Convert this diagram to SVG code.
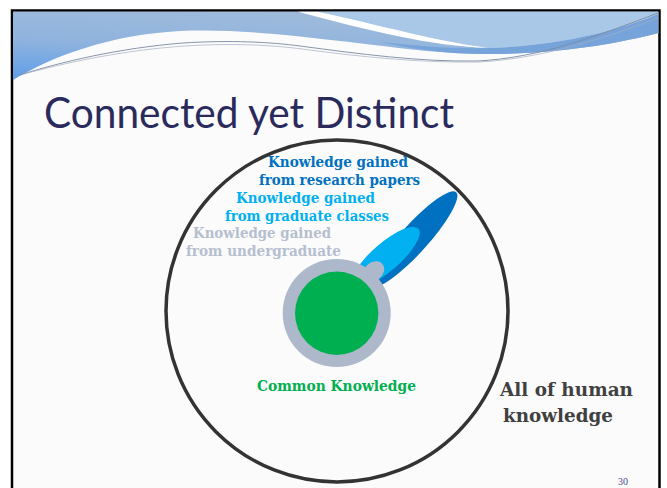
<svg xmlns="http://www.w3.org/2000/svg" width="667" height="488" viewBox="0 0 667 488">
  <defs>
    <linearGradient id="gMain" x1="0" y1="1" x2="0.45" y2="0">
      <stop offset="0" stop-color="#5f9ee8"/>
      <stop offset="0.5" stop-color="#8fb3de"/>
      <stop offset="1" stop-color="#9fbbdb"/>
    </linearGradient>
    <style>
      .lbl { font-family: "DejaVu Serif", "Liberation Serif", serif; font-weight: bold; }
      .k1 { fill: #0070c0; font-size: 14.5px; }
      .k2 { fill: #00b0f0; font-size: 14.5px; }
      .k3 { fill: #b6bfcf; font-size: 14.5px; }
      .thin { fill: none; stroke-linecap: round; }
    </style>
  </defs>
  <rect x="0" y="0" width="667" height="488" fill="#ffffff"/>
  <g id="slide">
    <rect x="12" y="10.5" width="647.5" height="500" fill="#fbfbfb" stroke="#000000" stroke-width="2.5"/>
  </g>
  <g id="header">
    <path d="M13,11.8 H658.3 V33 C620,43 560,54 490,54 C430,54 380,45 340,41 C280,34 230,29 180,31 C110,35 55,55 13,80 Z" fill="url(#gMain)"/>
    <path d="M380,42 C420,46 450,49 488,48 C560,46 620,30 658.3,14 V33 C620,43 560,54 490,54 C440,54 410,48 380,42 Z" fill="#76a4da"/>
    <path d="M318,11.8 H658.3 V14 C620,30 560,46 488,48 C430,40 380,25 318,11.8 Z" fill="#a9c7e7"/>
    <path d="M298,11.8 H318 C380,25 430,40 488,48 C430,46 370,31 298,11.8 Z" fill="#ffffff"/>
    <path class="thin" d="M20,75 C60,62 120,48 183,43 C230,40 270,42 300,46 C360,54 420,62 477,61 C540,58 600,35 658,13" stroke="#7b8aa0" stroke-width="0.9"/>
    <path class="thin" d="M24,74 C64,63 124,50 185,46 C232,43 272,45 302,49 C362,57 420,63 480,62 C545,58 605,38 658,18" stroke="#a3aec0" stroke-width="0.7"/>
  </g>
  <g id="title">
    <text x="44" y="128" font-family="Lato, 'Liberation Sans', sans-serif" font-size="43" fill="#2a2a5c" textLength="410" lengthAdjust="spacingAndGlyphs">Connected yet Distinct</text>
  </g>
  <g id="all-human-knowledge">
    <circle cx="337" cy="311" r="171" fill="none" stroke="#333333" stroke-width="3.5"/>
    <text class="lbl" x="500" y="396" font-size="19" fill="#404040" textLength="133" lengthAdjust="spacingAndGlyphs">All of human</text>
    <text class="lbl" x="503" y="421.5" font-size="19" fill="#404040" textLength="110" lengthAdjust="spacingAndGlyphs">knowledge</text>
  </g>
  <g id="research-papers">
    <ellipse cx="414" cy="239" rx="63" ry="14" transform="rotate(-48 414 239)" fill="#0070c0"/>
    <text class="lbl k1" x="268" y="166.5" textLength="140" lengthAdjust="spacingAndGlyphs">Knowledge gained</text>
    <text class="lbl k1" x="259" y="185" textLength="161" lengthAdjust="spacingAndGlyphs">from research papers</text>
  </g>
  <g id="graduate-classes">
    <ellipse cx="386" cy="257" rx="43" ry="14" transform="rotate(-41 386 257)" fill="#00b0f0"/>
    <text class="lbl k2" x="236" y="202.5" textLength="139" lengthAdjust="spacingAndGlyphs">Knowledge gained</text>
    <text class="lbl k2" x="225" y="221" textLength="164" lengthAdjust="spacingAndGlyphs">from graduate classes</text>
  </g>
  <g id="undergraduate">
    <ellipse cx="374" cy="271" rx="11" ry="9" transform="rotate(-40 374 271)" fill="#adb8ca"/>
    <circle cx="336.7" cy="313" r="54" fill="#adb8ca"/>
    <text class="lbl k3" x="193" y="237.5" textLength="138" lengthAdjust="spacingAndGlyphs">Knowledge gained</text>
    <text class="lbl k3" x="186" y="256" textLength="155" lengthAdjust="spacingAndGlyphs">from undergraduate</text>
  </g>
  <g id="common-knowledge">
    <circle cx="336.7" cy="313.3" r="41.7" fill="#00b050"/>
    <text class="lbl" x="257" y="391" font-size="15.5" fill="#00b050" textLength="159" lengthAdjust="spacingAndGlyphs">Common Knowledge</text>
  </g>
  <g id="page-number">
    <text x="618" y="485" font-family="'Liberation Serif', serif" font-size="10" fill="#4a4a8a">30</text>
  </g>
</svg>
